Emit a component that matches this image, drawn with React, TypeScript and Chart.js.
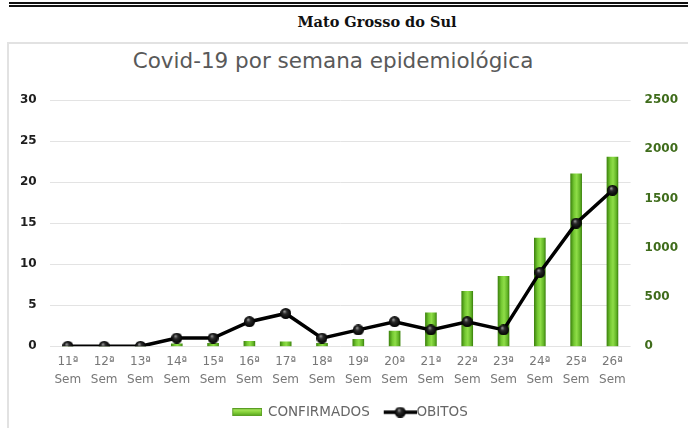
import React, { useEffect, useRef } from "react";
import { Chart, registerables } from "chart.js";

Chart.register(...registerables);

const weeks = ["11ª", "12ª", "13ª", "14ª", "15ª", "16ª", "17ª", "18ª", "19ª", "20ª", "21ª", "22ª", "23ª", "24ª", "25ª", "26ª"];
const weekWord = "Sem";
const confirmados = [0, 0, 0, 25, 30, 50, 45, 30, 71, 155, 340, 557, 709, 1098, 1750, 1920];
const obitos = [0, 0, 0, 1, 1, 3, 4, 1, 2, 3, 2, 3, 2, 9, 15, 19];
const leftMax = 30;
const leftStep = 5;
const rightMax = 2500;
const rightStep = 500;

const pageTitle = "Mato Grosso do Sul";
const chartTitle = "Covid-19 por semana epidemiológica";
const seriesNames = ["CONFIRMADOS", "OBITOS"];

function makeSphere(d: number): HTMLCanvasElement {
  const c = document.createElement("canvas");
  c.width = d;
  c.height = d;
  const g = c.getContext("2d")!;
  const r = d / 2;
  const grad = g.createRadialGradient(r * 0.75, r * 0.6, 0.3, r, r, r);
  grad.addColorStop(0, "#9a9a9a");
  grad.addColorStop(0.35, "#2a2a2a");
  grad.addColorStop(1, "#000000");
  g.fillStyle = grad;
  g.beginPath();
  g.arc(r, r, r, 0, Math.PI * 2);
  g.fill();
  return c;
}

// legend icon: drawn centred on the legend box; the visible line is shifted right
function makeLineIcon(): HTMLCanvasElement {
  const c = document.createElement("canvas");
  c.width = 44;
  c.height = 12;
  const g = c.getContext("2d")!;
  g.strokeStyle = "#000";
  g.lineWidth = 3.5;
  g.beginPath();
  g.moveTo(11, 6);
  g.lineTo(44, 6);
  g.stroke();
  const s = makeSphere(11);
  g.drawImage(s, 27.5 - 5.5, 0.5);
  return c;
}

function makeBarIcon(): HTMLCanvasElement {
  const c = document.createElement("canvas");
  c.width = 32;
  c.height = 8;
  const g = c.getContext("2d")!;
  const grad = g.createLinearGradient(0, 0, 0, 8);
  grad.addColorStop(0, "#b6ef6a");
  grad.addColorStop(0.5, "#86d23a");
  grad.addColorStop(1, "#4f9a1a");
  g.fillStyle = grad;
  g.fillRect(2, 0, 30, 8);
  g.strokeStyle = "#5a9e24";
  g.lineWidth = 1;
  g.strokeRect(2.5, 0.5, 29, 7);
  return c;
}

export default function App() {
  const ref = useRef<HTMLCanvasElement | null>(null);

  useEffect(() => {
    if (!ref.current) return;
    const sphere = makeSphere(11);
    const lineIcon = makeLineIcon();
    const barIcon = makeBarIcon();
    const family = "'DejaVu Sans', sans-serif";

    const barColor = (ctx: any) => {
      const chart = ctx.chart;
      const xs = chart.scales && chart.scales.x;
      if (!chart.chartArea || !xs || ctx.dataIndex === undefined) return "#7acb34";
      const cx = xs.getPixelForValue(ctx.dataIndex);
      const g = chart.ctx.createLinearGradient(cx - 5.5, 0, cx + 5.5, 0);
      g.addColorStop(0, "#3f860f");
      g.addColorStop(0.3, "#74c832");
      g.addColorStop(0.55, "#8fdd48");
      g.addColorStop(0.85, "#62b426");
      g.addColorStop(1, "#3f860f");
      return g;
    };

    const chart = new Chart(ref.current, {
      data: {
        labels: weeks.map((w) => [w, weekWord]),
        datasets: [
          {
            type: "line",
            label: seriesNames[1],
            data: obitos,
            yAxisID: "y",
            borderColor: "#000",
            borderWidth: 3.5,
            pointStyle: sphere as any,
            pointRadius: 5.5,
            tension: 0,
            order: 0,
          } as any,
          {
            type: "bar",
            label: seriesNames[0],
            data: confirmados,
            yAxisID: "y1",
            backgroundColor: barColor,
            barThickness: 11,
            order: 1,
          } as any,
        ],
      },
      options: {
        responsive: false,
        animation: false,
        devicePixelRatio: 1,
        layout: { padding: { left: 7, right: -4, top: 100, bottom: -1 } },
        plugins: {
          title: { display: false },
          tooltip: { enabled: false },
          legend: {
            position: "bottom",
            labels: {
              usePointStyle: true,
              pointStyleWidth: 30,
              boxHeight: 12,
              padding: 10,
              color: "#666",
              font: { family, size: 13.5 },
              generateLabels: () => [
                {
                  text: seriesNames[0],
                  pointStyle: barIcon as any,
                  fillStyle: "#7acb34",
                  strokeStyle: "#7acb34",
                  lineWidth: 0,
                  hidden: false,
                  datasetIndex: 1,
                  fontColor: "#666",
                },
                {
                  text: seriesNames[1],
                  pointStyle: lineIcon as any,
                  fillStyle: "#000",
                  strokeStyle: "#000",
                  lineWidth: 0,
                  hidden: false,
                  datasetIndex: 0,
                  fontColor: "#666",
                },
              ],
            },
          },
        },
        scales: {
          x: {
            grid: { display: false, drawTicks: false },
            border: { display: false },
            ticks: {
              color: "#777",
              font: { family, size: 12, lineHeight: 1.55 },
              padding: 6,
              maxRotation: 0,
              autoSkip: false,
            },
          },
          y: {
            position: "left",
            min: 0,
            max: leftMax,
            ticks: {
              stepSize: leftStep,
              color: "#1e1e1e",
              font: { family, size: 12, weight: "bold" },
              padding: 13,
            },
            grid: { color: "#e3e3e3", drawTicks: false },
            border: { display: false },
          },
          y1: {
            position: "right",
            min: 0,
            max: rightMax,
            ticks: {
              stepSize: rightStep,
              color: "#3f6c1b",
              font: { family, size: 12, weight: "bold" },
              padding: 14,
              callback: (v: any) => String(v),
            },
            grid: { display: false, drawTicks: false },
            border: { display: false },
          },
        },
      } as any,
    });
    return () => chart.destroy();
  }, []);

  return (
    <div style={{ position: "absolute", left: 0, top: 0, width: 688, height: 428, overflow: "hidden", background: "#fff" }}>
      <div style={{ position: "absolute", left: 9, top: 2, width: 679, height: 0, borderTop: "5px double #111" }} />
      <div
        style={{
          position: "absolute",
          left: 277,
          top: 12,
          width: 200,
          textAlign: "center",
          fontFamily: "'DejaVu Serif', serif",
          fontWeight: "bold",
          fontSize: 14.5,
          lineHeight: "20px",
          color: "#111",
        }}
      >
        {pageTitle}
      </div>
      <div
        style={{
          position: "absolute",
          left: 7,
          top: 42,
          width: 700,
          height: 400,
          borderLeft: "2px solid #e2e2e2",
          borderTop: "2px solid #e2e2e2",
        }}
      />
      <div
        style={{
          position: "absolute",
          left: 83,
          top: 47,
          width: 500,
          textAlign: "center",
          fontFamily: "'DejaVu Sans', sans-serif",
          fontSize: 21.5,
          lineHeight: "28px",
          color: "#595959",
        }}
      >
        {chartTitle}
      </div>
      <canvas ref={ref} width={688} height={428} style={{ position: "absolute", left: 0, top: 0 }} />
    </div>
  );
}
